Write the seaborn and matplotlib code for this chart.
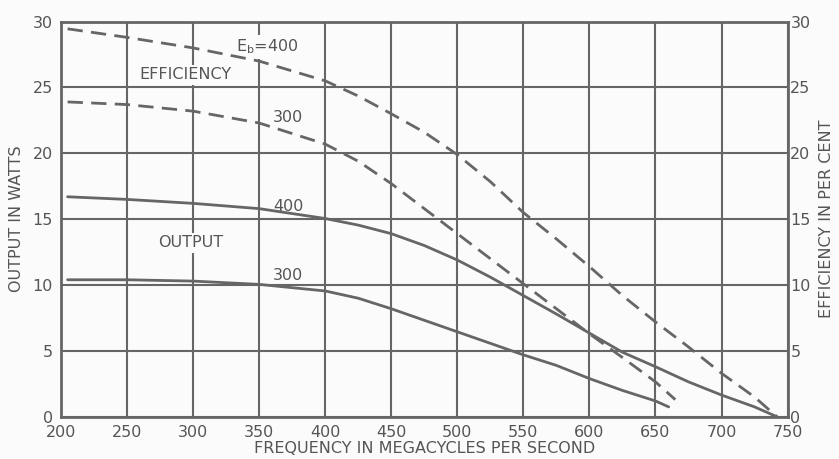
import matplotlib
matplotlib.use("Agg")
import matplotlib.pyplot as plt
import pandas as pd
import seaborn as sns

# readings (frequency in Mc, value)
eff400_f = [205, 250, 300, 350, 400, 425, 450, 475, 500, 525, 550, 575, 600, 625, 650, 675, 700, 725, 742]
eff400_v = [29.45, 28.8, 28.0, 27.0, 25.5, 24.35, 23.0, 21.6, 19.9, 17.85, 15.5, 13.5, 11.4, 9.2, 7.2, 5.3, 3.3, 1.5, 0.0]

eff300_f = [205, 250, 300, 350, 400, 425, 450, 475, 500, 525, 550, 575, 600, 625, 650, 665]
eff300_v = [23.9, 23.7, 23.2, 22.3, 20.7, 19.4, 17.7, 15.8, 13.9, 12.0, 10.1, 8.2, 6.3, 4.5, 2.65, 1.3]

out400_f = [205, 250, 300, 350, 400, 425, 450, 475, 500, 525, 550, 575, 600, 625, 650, 675, 700, 725, 742]
out400_v = [16.7, 16.5, 16.2, 15.8, 15.05, 14.55, 13.9, 13.0, 11.9, 10.6, 9.2, 7.8, 6.35, 4.9, 3.8, 2.65, 1.65, 0.75, 0.0]

out300_f = [205, 250, 300, 350, 400, 425, 450, 500, 550, 575, 600, 625, 650, 660]
out300_v = [10.4, 10.4, 10.3, 10.05, 9.55, 9.0, 8.2, 6.45, 4.7, 3.9, 2.9, 2.0, 1.2, 0.75]

x_ticks = list(range(200, 751, 50))
y_ticks = list(range(0, 31, 5))

sns.set_style("white")
plt.rcParams["font.family"] = ["DejaVu Sans"]

ink = "#666666"
txt = "#555555"

fig = plt.figure(figsize=(8.39, 4.59), dpi=100, facecolor="#fbfbfb")
ax = fig.add_axes([0.0727, 0.092, 0.866, 0.861])
ax.set_facecolor("#fbfbfb")

dash = (0, (5.5, 3))
sns.lineplot(x=eff400_f, y=eff400_v, ax=ax, color=ink, lw=2, linestyle=dash, zorder=4)
sns.lineplot(x=eff300_f, y=eff300_v, ax=ax, color=ink, lw=2, linestyle=dash, zorder=4)
sns.lineplot(x=out400_f, y=out400_v, ax=ax, color=ink, lw=2, zorder=4)
sns.lineplot(x=out300_f, y=out300_v, ax=ax, color=ink, lw=2, zorder=4)

ax.set_xlim(200, 750)
ax.set_ylim(0, 30)
ax.set_xticks(x_ticks)
ax.set_yticks(y_ticks)
ax.set_axisbelow(True)
ax.grid(True, color=ink, lw=1.5)
for s in ax.spines.values():
    s.set_color(ink)
    s.set_linewidth(2)
ax.tick_params(length=0, labelsize=11.5, labelcolor=txt)
ax.tick_params(axis="x", pad=6)
ax.tick_params(axis="y", pad=6)
ax.set_xlabel("FREQUENCY IN MEGACYCLES PER SECOND", fontsize=11.5, color=txt, labelpad=1)
ax.set_ylabel("OUTPUT IN WATTS", fontsize=11.5, color=txt, labelpad=6)

ax2 = ax.twinx()
ax2.set_ylim(0, 30)
ax2.set_yticks(y_ticks)
ax2.tick_params(length=0, labelsize=11.5, labelcolor=txt, pad=2)
for s in ax2.spines.values():
    s.set_visible(False)
ax2.set_ylabel("EFFICIENCY IN PER CENT", fontsize=11.5, color=txt, labelpad=6)

# labels that break the grid get a background box
box = dict(facecolor="#fbfbfb", edgecolor="none", pad=2)
lab = dict(color=txt, fontsize=11.5, ha="center", va="center", zorder=3)
ax.text(356, 28.1, r"E$_{\mathregular{b}}$=400", bbox=box, **lab)
ax.text(294, 25.95, "EFFICIENCY", bbox=box, **lab)
ax.text(298, 13.2, "OUTPUT", bbox=box, **lab)
ax.text(372, 22.7, "300", **lab)
ax.text(372, 15.95, "400", **lab)
ax.text(372, 10.75, "300", **lab)

fig.savefig("out.png", dpi=100, facecolor=fig.get_facecolor())
